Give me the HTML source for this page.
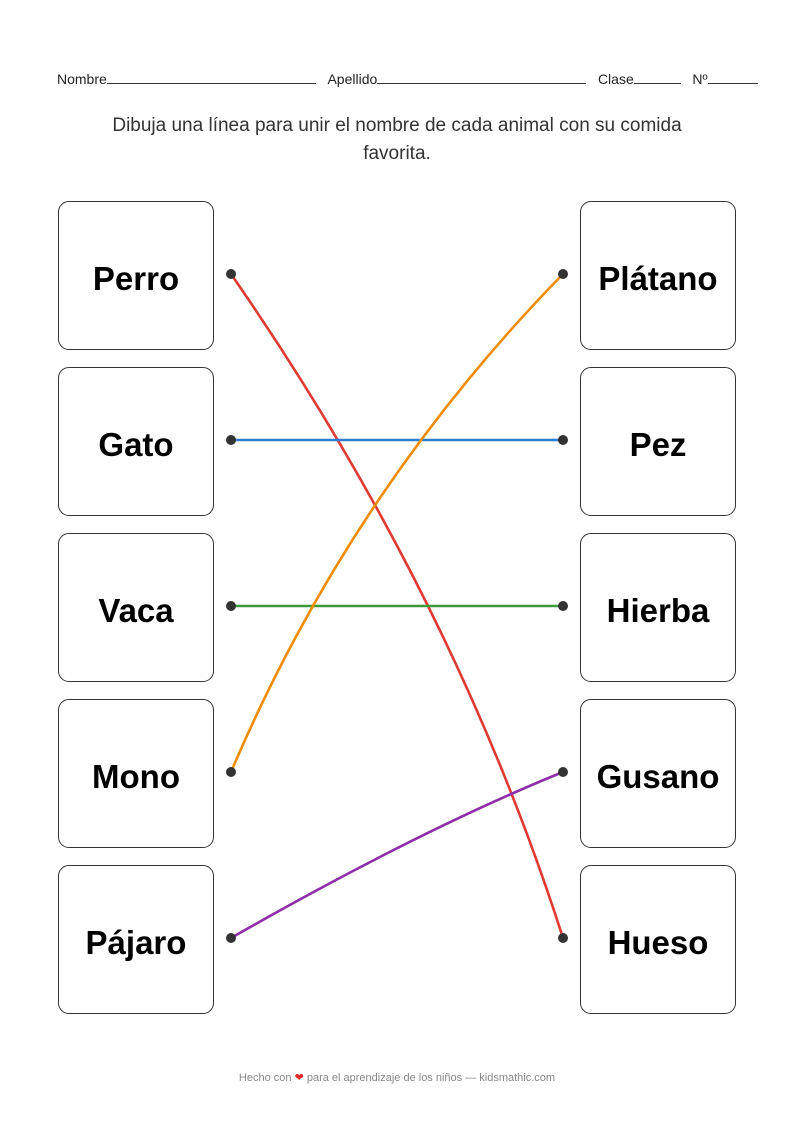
<!DOCTYPE html>
<html><head><meta charset="utf-8"><style>
html,body{margin:0;padding:0;background:#fff}
body{width:794px;height:1123px;position:relative;overflow:hidden;font-family:"Liberation Sans",sans-serif}
.hdr{position:absolute;top:70px;left:57px;font-size:14px;color:#222;white-space:nowrap}
.hdr span.l{display:inline-block;border-bottom:1px solid #333;height:13px;vertical-align:baseline}
.inst{position:absolute;top:112px;left:97px;width:600px;text-align:center;font-size:19px;line-height:28px;color:#333}
.box{position:absolute;width:156px;height:149px;border:1.5px solid #333;border-radius:11px;box-sizing:border-box;display:flex;align-items:center;justify-content:center;font-weight:bold;font-size:33px;color:#000;padding-top:6px}
.ft{position:absolute;top:1071px;left:0;width:794px;text-align:center;font-size:11px;color:#888}
</style></head><body>
<div class="hdr">Nombre<span class="l" style="width:209px"></span> &nbsp;&nbsp;Apellido<span class="l" style="width:209px"></span> &nbsp;&nbsp;Clase<span class="l" style="width:47px"></span> &nbsp;&nbsp;Nº<span class="l" style="width:50px"></span></div>
<div class="inst">Dibuja una línea para unir el nombre de cada animal con su comida favorita.</div>

<div class="box" style="left:58px;top:201px">Perro</div>
<div class="box" style="left:58px;top:367px">Gato</div>
<div class="box" style="left:58px;top:533px">Vaca</div>
<div class="box" style="left:58px;top:699px">Mono</div>
<div class="box" style="left:58px;top:865px">Pájaro</div>
<div class="box" style="left:580px;top:201px">Plátano</div>
<div class="box" style="left:580px;top:367px">Pez</div>
<div class="box" style="left:580px;top:533px">Hierba</div>
<div class="box" style="left:580px;top:699px">Gusano</div>
<div class="box" style="left:580px;top:865px">Hueso</div>

<svg width="794" height="1123" style="position:absolute;left:0;top:0">
<g fill="none" stroke-width="2.6">
<path d="M231 274 Q453 594 563 938" stroke="#e03a33"/>
<path d="M231 440 L563 440" stroke="#2a7fd4"/>
<path d="M231 606 L563 606" stroke="#3c9a3c"/>
<path d="M231 772 Q350 492 563 274" stroke="#f08c00"/>
<path d="M231 938 Q420 830 563 772" stroke="#8e2ea8"/>
</g>
<g fill="#333">
<circle cx="231" cy="274" r="5"/><circle cx="231" cy="440" r="5"/><circle cx="231" cy="606" r="5"/><circle cx="231" cy="772" r="5"/><circle cx="231" cy="938" r="5"/>
<circle cx="563" cy="274" r="5"/><circle cx="563" cy="440" r="5"/><circle cx="563" cy="606" r="5"/><circle cx="563" cy="772" r="5"/><circle cx="563" cy="938" r="5"/>
</g>
</svg>
<div class="ft">Hecho con <span style="color:#e02a2a">❤</span> para el aprendizaje de los niños — kidsmathic.com</div>
</body></html>
